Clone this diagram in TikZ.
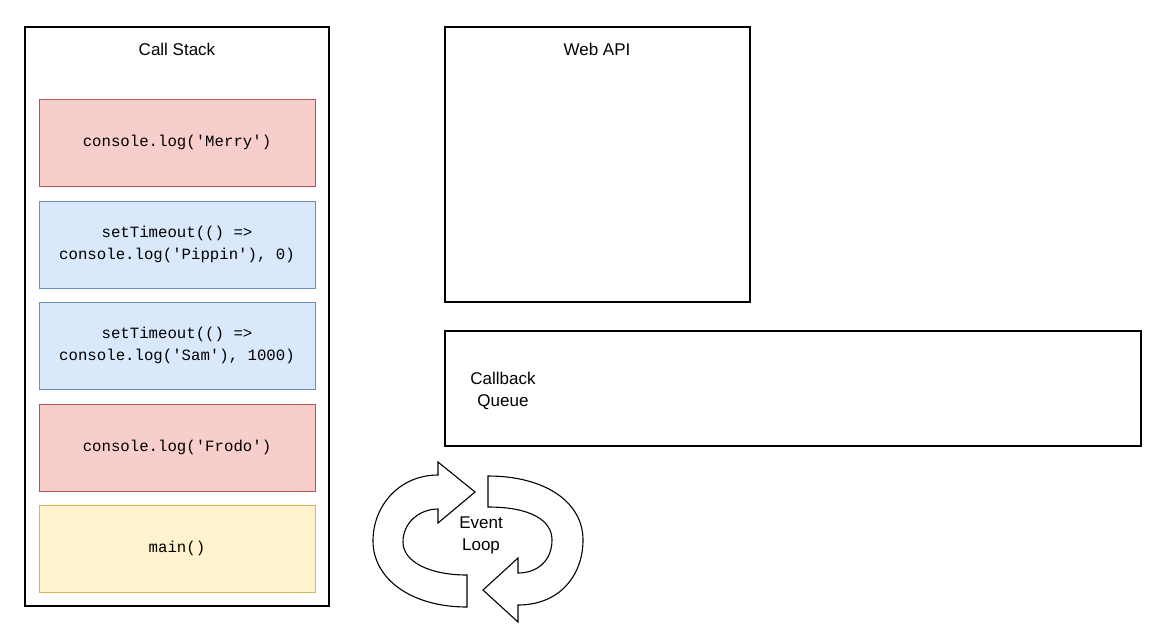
\documentclass[tikz,border=0pt]{standalone}
\usepackage{fontspec}
\setmainfont{Liberation Sans}
\newfontfamily\codefont{Liberation Mono}
\usepackage{tikz}
\usetikzlibrary{positioning}
\usepackage{xcolor}
\definecolor{redfill}{HTML}{F8CECC}
\definecolor{redline}{HTML}{B85450}
\definecolor{bluefill}{HTML}{DAE8FC}
\definecolor{blueline}{HTML}{6C8EBF}
\definecolor{yellowfill}{HTML}{FFF2CC}
\definecolor{yellowline}{HTML}{D6B656}

\begin{document}
\begin{tikzpicture}[x=1pt, y=-1pt,
  frame/.style={draw=black, line width=1.1pt, inner sep=0pt},
  title/.style={font=\fontsize{17}{22}\selectfont, align=center, yshift=-1.5pt},
  call/.style={line width=1pt, minimum width=276pt, minimum height=87pt, inner sep=0pt,
    font=\codefont\fontsize{15.7}{22}\selectfont, align=center, text depth=3pt},
  redcall/.style={call, draw=redline, fill=redfill},
  bluecall/.style={call, draw=blueline, fill=bluefill},
  yellowcall/.style={call, draw=yellowline, fill=yellowfill},
  loop/.style={draw=black, line width=1.1pt, fill=white, line join=miter}
]
  \useasboundingbox (0,0) rectangle (1166,640);

  % Call stack
  \node[frame, minimum width=304pt, minimum height=579pt] (stack) at (177,316.5) {};
  \node[title] (stacktitle) at (177,48) {Call Stack};
  \node[redcall] (merry) at (177,142.5) {console.log('Merry')};
  \node[bluecall] (pippin) at (177,244.5) {setTimeout(() =>\\console.log('Pippin'), 0)};
  \node[bluecall] (sam) at (177,345.5) {setTimeout(() =>\\console.log('Sam'), 1000)};
  \node[redcall] (frodo) at (177,447.5) {console.log('Frodo')};
  \node[yellowcall] (main) at (177,548.5) {main()};

  % Web API
  \node[frame, minimum width=305pt, minimum height=275pt] (webapi) at (597.5,164.5) {};
  \node[title] (webtitle) at (597,48) {Web API};

  % Callback queue
  \node[frame, minimum width=696pt, minimum height=115pt] (queue) at (793,388.5) {};
  \node[title] (queuetitle) at (503,389) {Callback\\Queue};

  % Event loop
  \draw[loop] (467,607) -- (467,575)
    .. controls (430,575) and (403,562) .. (403,542)
    .. controls (403,522) and (420,509) .. (438,509)
    -- (438,523) -- (475,492) -- (438,462) -- (438,475)
    .. controls (400,475) and (373,505) .. (373,541)
    .. controls (373,578) and (410,607) .. (467,607) -- cycle;
  \draw[loop] (488,476) -- (488,507)
    .. controls (530,507) and (552,520) .. (552,540)
    .. controls (552,560) and (538,573) .. (518,573)
    -- (518,558) -- (483,590) -- (518,622) -- (518,605)
    .. controls (560,605) and (583,575) .. (583,540)
    .. controls (583,502) and (545,476) .. (488,476) -- cycle;
  \node[title] (looptitle) at (481,534) {Event\\Loop};
\end{tikzpicture}
\end{document}
